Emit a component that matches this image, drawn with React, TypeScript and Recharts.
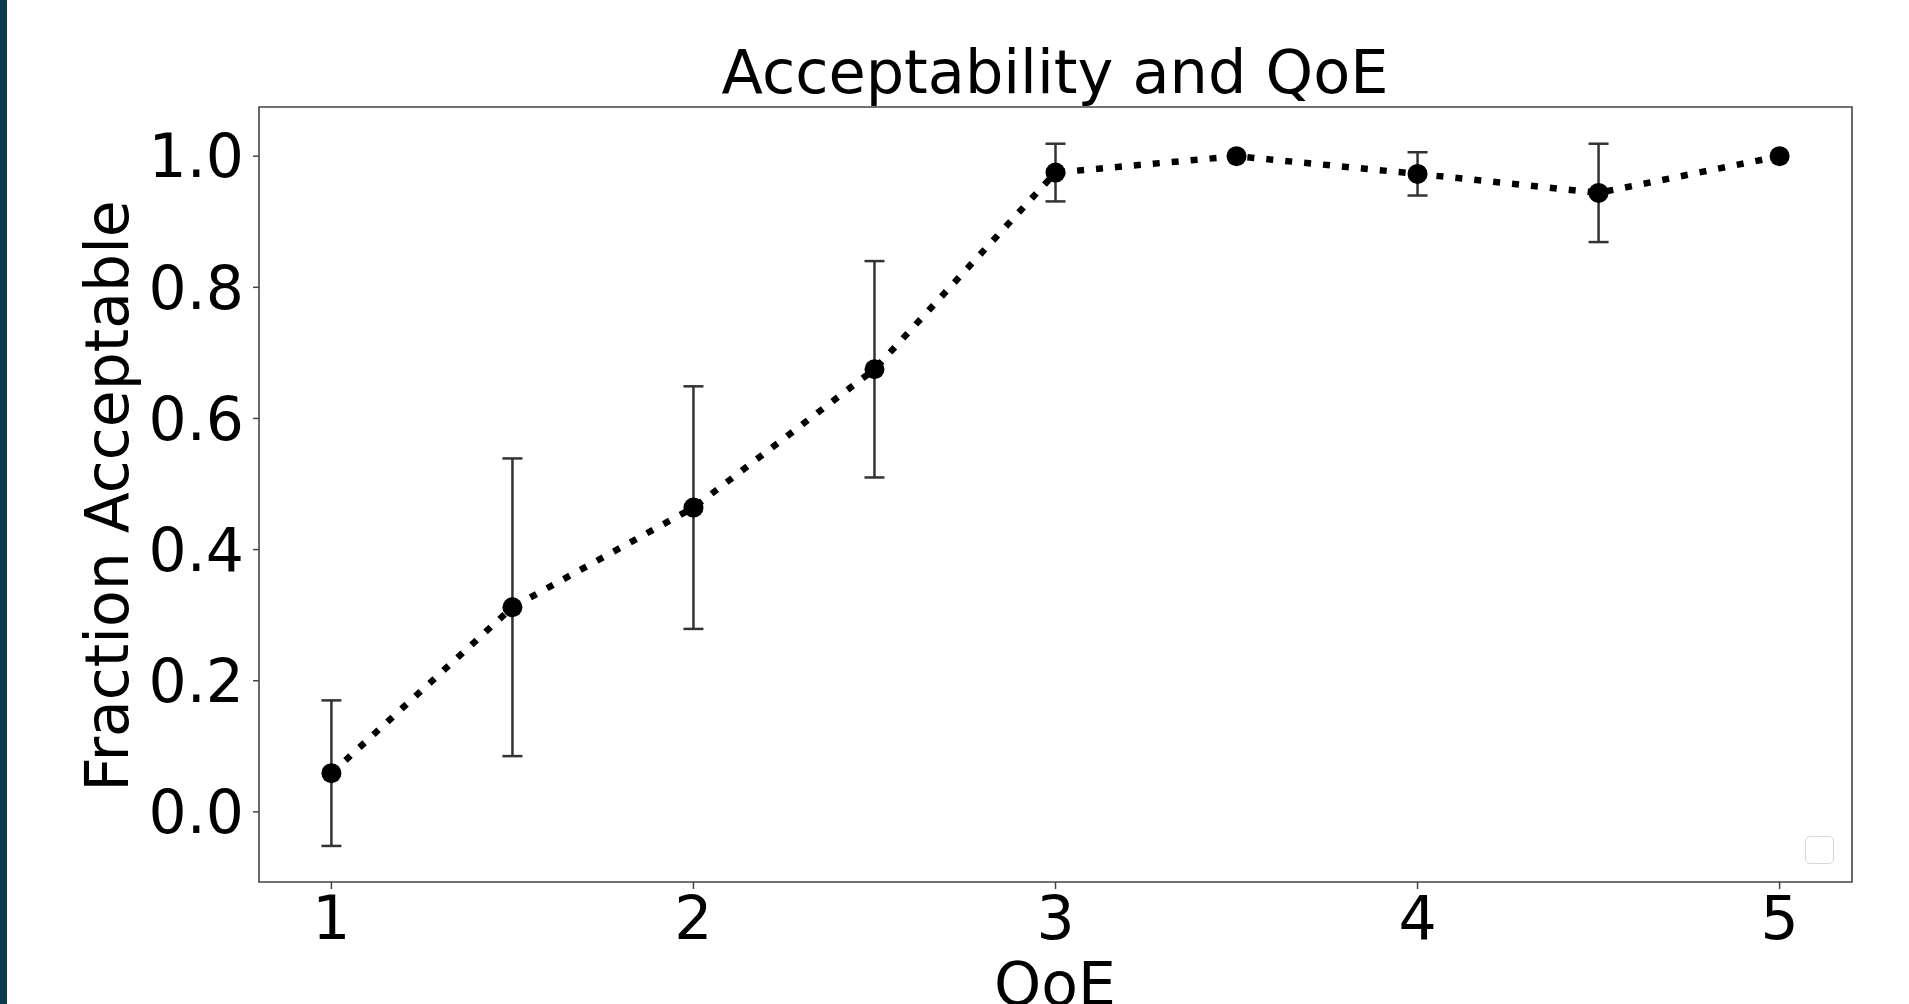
import React from "react";
import { LineChart, Line, XAxis, YAxis, ErrorBar, ReferenceArea } from "recharts";

const qoe = [1, 1.5, 2, 2.5, 3, 3.5, 4, 4.5, 5];
const fractionAcceptable = [0.059, 0.312, 0.464, 0.675, 0.975, 1.0, 0.973, 0.944, 1.0];
const errorSize = [0.111, 0.227, 0.185, 0.165, 0.044, 0, 0.033, 0.075, 0];
const xTicks = [1, 2, 3, 4, 5];
const yTicks = [0, 0.2, 0.4, 0.6, 0.8, 1.0];
const xDomain = [0.8, 5.2];
const yDomain = [-0.107, 1.075];

const data = qoe.map((q, i) => ({ qoe: q, frac: fractionAcceptable[i], err: errorSize[i] }));

const FONT = "'DejaVu Sans', sans-serif";
const W = 1909;
const H = 1004;
const YW = 100;
const XH = 60;
const PLOT = { left: 259, top: 107, right: 1852, bottom: 882 };

export default function App() {
  return (
    <div style={{ position: "absolute", left: 0, top: 0, width: W, height: H, background: "#fff", overflow: "hidden" }}>
      <div style={{ position: "absolute", left: 0, top: 0, width: 7, height: H, background: "#0e3b4b" }} />
      <div style={{ position: "absolute", left: 0, top: 0 }}>
        <LineChart
          width={W}
          height={H}
          data={data}
          margin={{ top: PLOT.top, right: W - PLOT.right, left: PLOT.left - YW, bottom: H - PLOT.bottom - XH }}
        >
          <XAxis
            dataKey="qoe"
            type="number"
            domain={xDomain}
            ticks={xTicks}
            allowDataOverflow
            height={XH}
            axisLine={false}
            tickSize={7}
            tickMargin={7}
            tickLine={{ stroke: "#444", strokeWidth: 1.5 }}
            tick={{ fill: "#000", fontSize: 60, fontFamily: FONT }}
            interval={0}
          />
          <YAxis
            type="number"
            domain={yDomain}
            ticks={yTicks}
            allowDataOverflow
            width={YW}
            axisLine={false}
            tickSize={6}
            tickMargin={9}
            tickLine={{ stroke: "#444", strokeWidth: 1.5 }}
            tick={{ fill: "#000", fontSize: 60, fontFamily: FONT }}
            tickFormatter={(v: number) => v.toFixed(1)}
            interval={0}
          />
          <ReferenceArea
            x1={xDomain[0]}
            x2={xDomain[1]}
            y1={yDomain[0]}
            y2={yDomain[1]}
            fill="none"
            fillOpacity={0}
            stroke="#444"
            strokeWidth={1.6}
            ifOverflow="visible"
          />
          <Line
            dataKey="frac"
            stroke="#000"
            strokeWidth={6.5}
            strokeDasharray="7 12"
            type="linear"
            isAnimationActive={false}
            dot={{ r: 10, fill: "#000", stroke: "none" }}
            activeDot={false}
          >
            <ErrorBar dataKey="err" direction="y" width={10} stroke="#333" strokeWidth={2.5} />
          </Line>
        </LineChart>
      </div>
      <svg
        width={W}
        height={H}
        style={{ position: "absolute", left: 0, top: 0, pointerEvents: "none" }}
      >
        <text x={1055} y={93} textAnchor="middle" fontSize={60.5} fontFamily={FONT} fill="#000">
          Acceptability and QoE
        </text>
        <text x={1055} y={1005} textAnchor="middle" fontSize={60} fontFamily={FONT} fill="#000">
          QoE
        </text>
        <text
          x={128}
          y={496}
          transform="rotate(-90 128 496)"
          textAnchor="middle"
          fontSize={60}
          fontFamily={FONT}
          fill="#000"
        >
          Fraction Acceptable
        </text>
      </svg>
      <div
        style={{
          position: "absolute",
          left: 1805,
          top: 836,
          width: 27,
          height: 26,
          border: "1.5px solid #d8d8d8",
          borderRadius: 5,
          background: "#fff",
        }}
      />
    </div>
  );
}
